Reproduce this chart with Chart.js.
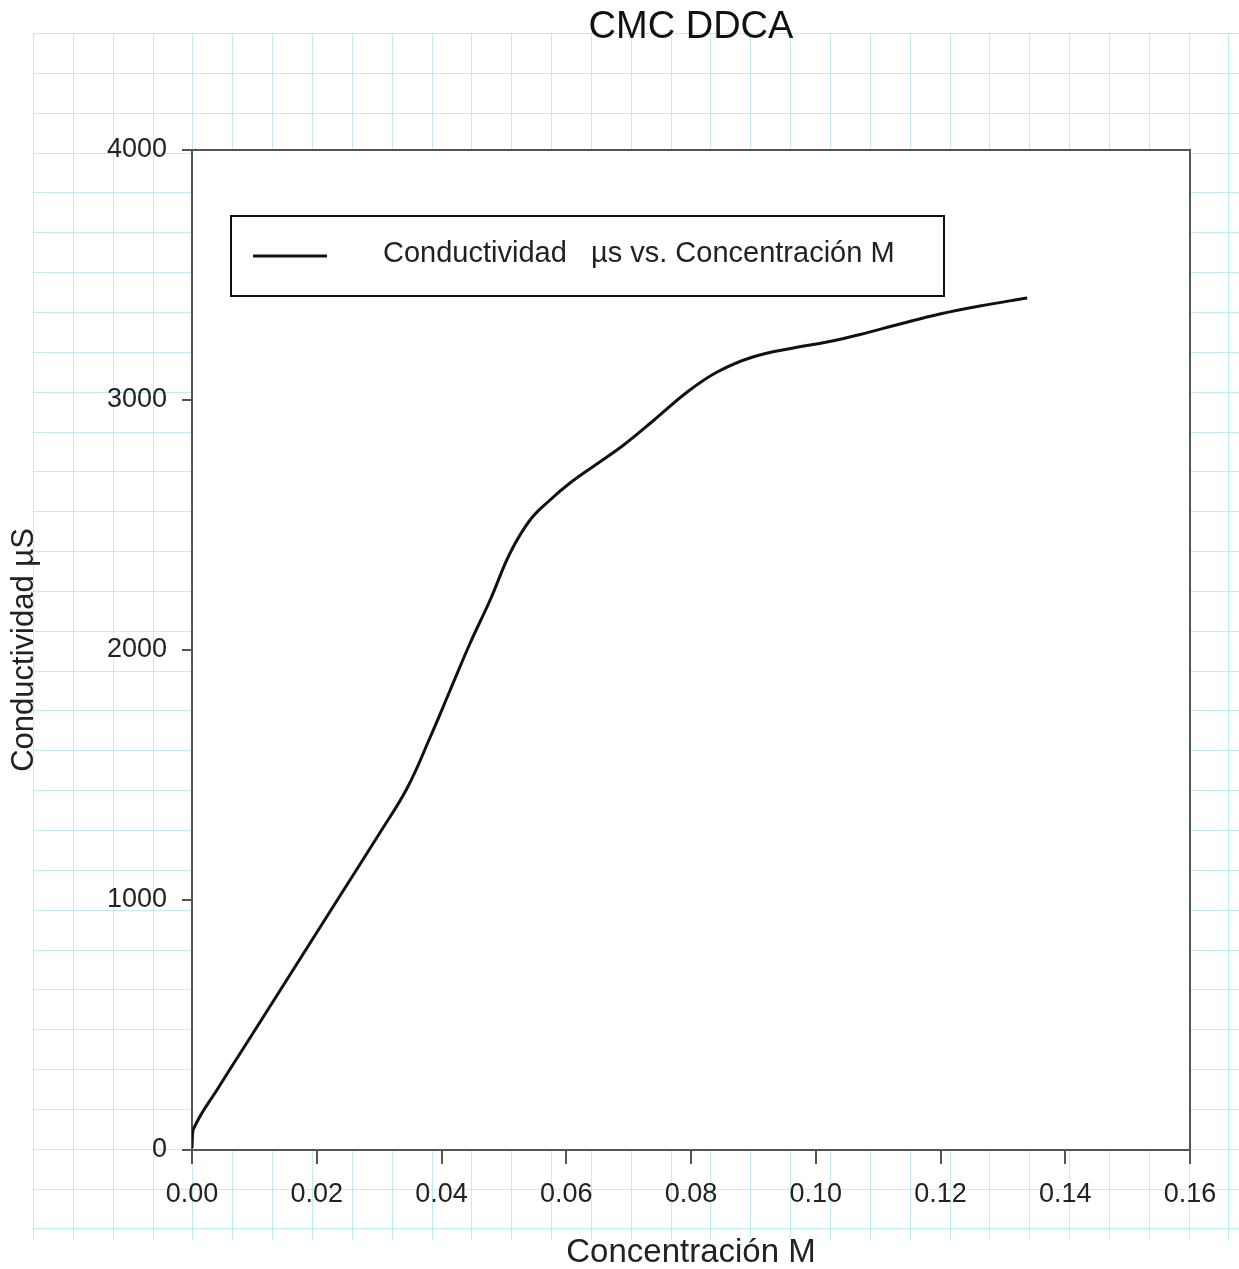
<!DOCTYPE html>
<html>
<head>
<meta charset="utf-8">
<title>CMC DDCA</title>
<script src="https://cdn.jsdelivr.net/npm/chart.js@4.4.1/dist/chart.umd.min.js"></script>
<style>
  html, body { margin: 0; padding: 0; background: #fff; }
  #wrap { width: 1239px; height: 1269px; }
</style>
</head>
<body>
<div id="wrap"><canvas id="cmc"></canvas></div>
<script>
// Concentración (M) y conductividad (µS) medidas
const concentracion = [0.0000, 0.00016, 0.0043, 0.0098, 0.0164, 0.0233, 0.0301, 0.0345, 0.0382,
  0.0414, 0.0446, 0.0478, 0.0510, 0.0542, 0.0574, 0.0606, 0.0649, 0.0691, 0.0739, 0.0794,
  0.0842, 0.0899, 0.0964, 0.1018, 0.1071, 0.1135, 0.1199, 0.1263, 0.1339];
const conductividad = [8, 80, 252, 468, 728, 1000, 1268, 1448, 1652,
  1840, 2028, 2200, 2388, 2520, 2600, 2668, 2744, 2818, 2916, 3032,
  3112, 3172, 3208, 3232, 3262, 3304, 3344, 3376, 3408];

const xTicks = [0.00, 0.02, 0.04, 0.06, 0.08, 0.10, 0.12, 0.14, 0.16];
const yTicks = [0, 1000, 2000, 3000, 4000];

const FONT = '"Liberation Sans", Arial, sans-serif';
const AXIS = '#555';

const puntos = concentracion.map((c, i) => ({ x: c, y: conductividad[i] }));

// fondo de papel cuadriculado + marco del área de trazado + leyenda
const papel = {
  id: 'papel',
  beforeDraw(chart) {
    const { ctx, width, height, chartArea: a } = chart;
    ctx.save();
    ctx.fillStyle = '#fff';
    ctx.fillRect(0, 0, width, height);
    ctx.strokeStyle = 'rgba(165, 232, 236, 0.7)';
    ctx.lineWidth = 1;
    const paso = 39.85, x0 = 33, y0 = 33, y1 = 1240;
    ctx.beginPath();
    for (let x = x0; x <= width; x += paso) {
      ctx.moveTo(Math.round(x) + 0.5, y0);
      ctx.lineTo(Math.round(x) + 0.5, y1);
    }
    for (let y = y0; y <= y1 + 1; y += paso) {
      ctx.moveTo(x0, Math.round(y) + 0.5);
      ctx.lineTo(width, Math.round(y) + 0.5);
    }
    ctx.stroke();
    ctx.fillStyle = '#fff';
    ctx.fillRect(a.left, a.top, a.right - a.left, a.bottom - a.top);
    ctx.restore();
  },
  afterDraw(chart) {
    const { ctx, chartArea: a } = chart;
    const ds = chart.data.datasets[0];
    ctx.save();
    ctx.strokeStyle = AXIS;
    ctx.lineWidth = 2;
    ctx.beginPath();
    ctx.moveTo(a.left, a.top);
    ctx.lineTo(a.right, a.top);
    ctx.lineTo(a.right, a.bottom);
    ctx.stroke();

    // leyenda
    const lx = a.left + 39, ly = a.top + 66, lw = 713, lh = 80;
    ctx.fillStyle = '#fff';
    ctx.fillRect(lx, ly, lw, lh);
    ctx.strokeStyle = '#111';
    ctx.lineWidth = 2;
    ctx.strokeRect(lx, ly, lw, lh);
    ctx.strokeStyle = ds.borderColor;
    ctx.lineWidth = ds.borderWidth;
    ctx.beginPath();
    ctx.moveTo(lx + 22, ly + 40);
    ctx.lineTo(lx + 96, ly + 40);
    ctx.stroke();
    ctx.fillStyle = '#222';
    ctx.font = '29px ' + FONT;
    ctx.textBaseline = 'middle';
    ctx.fillText(ds.label, lx + 152, ly + 38);
    ctx.restore();
  }
};

new Chart(document.getElementById('cmc'), {
  type: 'scatter',
  data: {
    datasets: [{
      label: 'Conductividad   µs vs. Concentración M',
      data: puntos,
      showLine: true,
      borderColor: '#111',
      borderWidth: 3,
      pointRadius: 0,
      tension: 0.4
    }]
  },
  options: {
    responsive: true,
    maintainAspectRatio: false,
    animation: false,
    layout: { padding: { left: 0, right: 49, top: 0, bottom: 0 } },
    plugins: {
      legend: { display: false },
      tooltip: { enabled: false },
      title: {
        display: true,
        fullSize: false,
        text: 'CMC DDCA',
        color: '#111',
        font: { family: FONT, size: 38, weight: 'normal', lineHeight: 1 },
        padding: { top: 9, bottom: 103 }
      }
    },
    scales: {
      x: {
        type: 'linear',
        min: 0,
        max: 0.16,
        afterBuildTicks(scale) { scale.ticks = xTicks.map(v => ({ value: v })); },
        afterFit(scale) { scale.height = 119; scale.paddingLeft = 0; scale.paddingRight = 0; },
        ticks: {
          color: '#222',
          font: { family: FONT, size: 27 },
          padding: 14,
          maxRotation: 0,
          callback: v => v.toFixed(2)
        },
        grid: { drawOnChartArea: false, drawTicks: true, tickLength: 14, color: AXIS, lineWidth: 2 },
        border: { display: true, color: AXIS, width: 2 },
        title: {
          display: true,
          text: 'Concentración M',
          color: '#222',
          font: { family: FONT, size: 33, lineHeight: 1 },
          padding: { top: 0, bottom: 0 }
        }
      },
      y: {
        type: 'linear',
        min: 0,
        max: 4000,
        afterBuildTicks(scale) { scale.ticks = yTicks.map(v => ({ value: v })); },
        afterFit(scale) { scale.width = 192; scale.paddingTop = 0; scale.paddingBottom = 0; },
        ticks: {
          color: '#222',
          font: { family: FONT, size: 27 },
          padding: 15,
          callback: v => String(v)
        },
        grid: { drawOnChartArea: false, drawTicks: true, tickLength: 10, color: AXIS, lineWidth: 2 },
        border: { display: true, color: AXIS, width: 2 },
        title: {
          display: true,
          text: 'Conductividad µS',
          color: '#222',
          font: { family: FONT, size: 31, lineHeight: 1 },
          padding: { top: 9, bottom: 0 }
        }
      }
    }
  },
  plugins: [papel]
});
</script>
</body>
</html>
